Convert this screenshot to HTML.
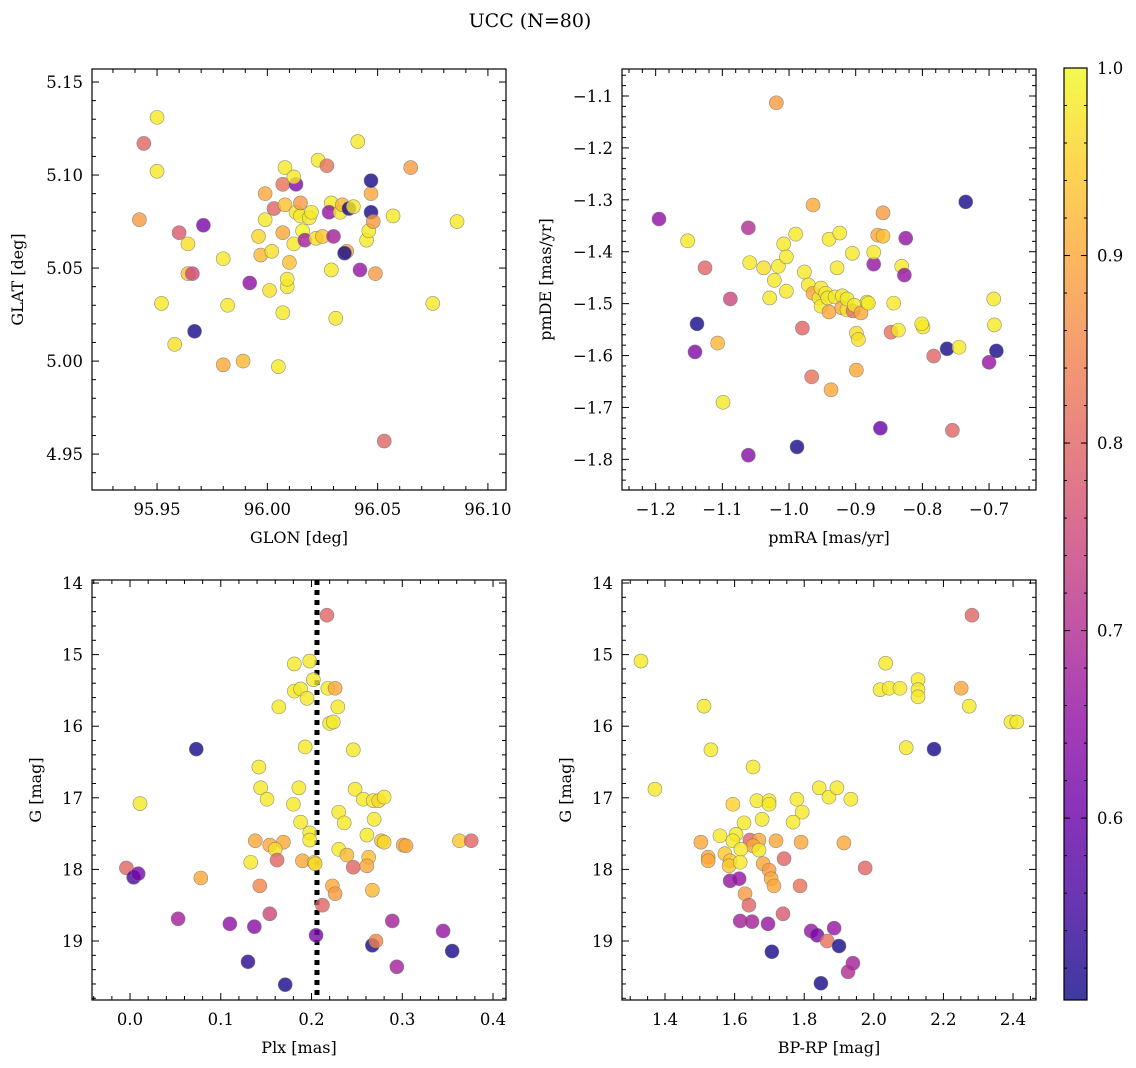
<!DOCTYPE html>
<html><head><meta charset="utf-8">
<style>
html,body{margin:0;padding:0;background:#fff}
svg{display:block;font-family:"DejaVu Serif","Liberation Serif",serif}
</style></head>
<body>
<svg id="fig" width="1136" height="1068" viewBox="0 0 1136 1068" xmlns="http://www.w3.org/2000/svg">
<text x="530" y="27" text-anchor="middle" font-size="19">UCC (N=80)</text>
<defs>
<linearGradient id="cbg" x1="0" y1="1" x2="0" y2="0">
<stop offset="0" stop-color="#0d0887"/><stop offset="0.1" stop-color="#41049d"/><stop offset="0.2" stop-color="#6a00a8"/><stop offset="0.3" stop-color="#8f0da4"/><stop offset="0.4" stop-color="#b12a90"/><stop offset="0.5" stop-color="#cc4778"/><stop offset="0.6" stop-color="#e16462"/><stop offset="0.7" stop-color="#f2844b"/><stop offset="0.8" stop-color="#fca636"/><stop offset="0.9" stop-color="#fcce25"/><stop offset="1" stop-color="#f0f921"/>
</linearGradient>
</defs>
</svg>
<script>
// ---- data ----
const p1X=[95.950,95.944,95.950,95.942,95.960,95.971,95.964,95.964,95.966,95.952,95.967,95.958,95.980,95.982,95.980,95.989,95.992,95.996,95.997,95.999,95.999,96.001,96.002,96.003,96.005,96.007,96.008,96.007,96.008,96.007,96.009,96.009,96.010,96.012,96.013,96.012,96.013,96.015,96.016,96.017,96.015,96.019,96.020,96.022,96.023,96.027,96.025,96.029,96.029,96.031,96.030,96.028,96.033,96.034,96.036,96.035,96.037,96.039,96.041,96.042,96.045,96.046,96.047,96.047,96.047,96.048,96.049,96.053,96.057,96.065,96.075,96.086];
const p1Y=[5.131,5.117,5.102,5.076,5.069,5.073,5.063,5.047,5.047,5.031,5.016,5.009,5.055,5.030,4.998,5.000,5.042,5.067,5.057,5.090,5.076,5.038,5.059,5.082,4.997,5.026,5.104,5.095,5.084,5.069,5.040,5.044,5.053,5.063,5.095,5.099,5.080,5.078,5.070,5.065,5.085,5.077,5.080,5.066,5.108,5.105,5.067,5.049,5.085,5.023,5.067,5.080,5.080,5.084,5.059,5.058,5.082,5.083,5.118,5.049,5.065,5.070,5.080,5.090,5.097,5.075,5.047,4.957,5.078,5.104,5.031,5.075];
const p1P=[0.98,0.8,0.98,0.88,0.78,0.62,0.97,0.93,0.75,0.98,0.51,0.97,0.98,0.98,0.9,0.92,0.65,0.96,0.92,0.9,0.98,0.97,0.97,0.8,0.98,0.98,0.98,0.82,0.93,0.9,0.98,0.98,0.93,0.98,0.63,0.98,0.98,0.98,1.0,0.68,0.88,0.98,0.98,0.97,0.98,0.82,0.94,0.98,0.98,0.98,0.68,0.66,0.98,0.92,0.9,0.51,0.51,0.98,0.98,0.66,0.98,0.98,0.51,0.9,0.51,0.88,0.88,0.8,0.98,0.88,0.98,0.98];

const p2X=[-1.195,-1.152,-1.138,-1.141,-1.107,-1.126,-1.088,-1.099,-1.061,-1.061,-1.059,-1.038,-1.022,-1.029,-1.016,-1.008,-1.004,-1.004,-1.019,-0.990,-0.988,-0.980,-0.977,-0.971,-0.964,-0.964,-0.966,-0.955,-0.952,-0.952,-0.945,-0.940,-0.942,-0.940,-0.937,-0.931,-0.928,-0.924,-0.920,-0.921,-0.913,-0.913,-0.905,-0.904,-0.902,-0.899,-0.899,-0.896,-0.892,-0.883,-0.881,-0.873,-0.873,-0.863,-0.867,-0.859,-0.859,-0.847,-0.843,-0.836,-0.831,-0.827,-0.825,-0.799,-0.801,-0.783,-0.763,-0.755,-0.745,-0.735,-0.693,-0.692,-0.700,-0.689];
const p2Y=[-1.337,-1.379,-1.539,-1.593,-1.576,-1.431,-1.491,-1.690,-1.792,-1.354,-1.421,-1.431,-1.455,-1.489,-1.428,-1.385,-1.410,-1.476,-1.113,-1.366,-1.776,-1.547,-1.439,-1.464,-1.480,-1.310,-1.641,-1.489,-1.470,-1.505,-1.480,-1.516,-1.489,-1.376,-1.666,-1.487,-1.431,-1.364,-1.485,-1.508,-1.512,-1.491,-1.403,-1.514,-1.503,-1.557,-1.628,-1.569,-1.518,-1.497,-1.499,-1.424,-1.401,-1.740,-1.368,-1.370,-1.325,-1.555,-1.499,-1.551,-1.428,-1.445,-1.374,-1.545,-1.539,-1.601,-1.587,-1.744,-1.584,-1.304,-1.491,-1.541,-1.613,-1.591];
const p2P=[0.65,0.98,0.51,0.63,0.92,0.8,0.75,0.98,0.64,0.7,0.98,0.97,0.98,0.98,0.98,0.98,0.98,0.98,0.88,0.98,0.51,0.8,0.98,0.98,0.9,0.9,0.82,0.98,0.98,0.98,0.98,0.9,0.98,0.98,0.9,0.98,0.98,0.98,0.98,0.9,0.98,0.98,0.98,0.82,0.98,0.97,0.9,0.97,0.9,0.98,0.98,0.66,0.98,0.6,0.9,0.93,0.88,0.82,0.98,0.98,0.98,0.66,0.66,0.98,0.98,0.8,0.51,0.8,0.98,0.51,0.98,0.98,0.66,0.51];

const p3X=[0.217,0.181,0.198,0.202,0.181,0.188,0.195,0.218,0.226,0.164,0.229,0.220,0.224,0.193,0.246,0.142,0.144,0.186,0.151,0.248,0.257,0.268,0.274,0.280,0.180,0.230,0.236,0.269,0.188,0.198,0.198,0.261,0.277,0.280,0.301,0.304,0.138,0.154,0.169,0.160,0.133,0.162,0.190,0.203,0.204,0.230,0.239,0.246,0.263,0.261,0.143,0.223,0.226,0.267,0.212,0.154,-0.004,0.004,0.009,0.011,0.053,0.073,0.078,0.110,0.130,0.137,0.171,0.205,0.267,0.271,0.289,0.294,0.345,0.355,0.363,0.376];
const p3Y=[14.45,15.13,15.09,15.35,15.51,15.48,15.61,15.47,15.47,15.73,15.73,15.96,15.94,16.29,16.33,16.57,16.86,16.86,17.02,16.88,17.02,17.04,17.04,16.99,17.09,17.20,17.35,17.30,17.34,17.49,17.59,17.52,17.60,17.62,17.66,17.67,17.60,17.66,17.62,17.72,17.90,17.87,17.88,17.90,17.92,17.72,17.80,17.97,17.83,17.95,18.23,18.23,18.34,18.29,18.50,18.62,17.98,18.11,18.06,17.08,18.69,16.32,18.12,18.76,19.29,18.80,19.61,18.92,19.06,19.00,18.72,19.36,18.86,19.14,17.60,17.60];
const p3P=[0.8,0.98,0.98,0.98,0.98,0.98,0.98,0.98,0.9,0.98,0.98,0.98,0.98,0.98,0.98,0.98,0.98,0.98,0.98,0.98,0.98,0.98,0.96,0.98,0.98,0.98,0.98,0.98,0.98,0.98,0.98,0.98,0.93,0.96,0.9,0.9,0.9,0.9,0.9,0.97,0.98,0.8,0.9,0.96,0.96,0.98,0.92,0.8,0.93,0.9,0.85,0.9,0.88,0.92,0.8,0.75,0.8,0.56,0.62,0.98,0.68,0.51,0.9,0.65,0.53,0.64,0.51,0.62,0.51,0.85,0.68,0.68,0.66,0.51,0.94,0.8];

const p4X=[1.532,1.653,1.371,1.843,1.871,1.894,1.934,1.595,1.664,1.699,1.699,1.779,1.794,1.679,1.768,1.627,1.558,1.604,1.503,1.595,1.644,1.670,1.653,1.618,1.670,1.719,1.791,1.914,1.524,1.524,1.572,1.587,1.584,1.616,1.682,1.699,1.742,1.975,1.705,1.713,1.788,1.587,1.613,1.630,1.641,1.739,1.616,1.650,1.696,1.820,1.837,1.886,1.866,1.900,1.707,1.940,1.926,1.848,1.331,2.034,2.018,2.044,2.075,2.127,2.127,2.127,2.251,2.274,2.282,2.394,2.411,2.093,2.173,1.512];
const p4Y=[16.33,16.57,16.88,16.86,16.99,16.86,17.02,17.09,17.04,17.04,17.09,17.02,17.20,17.30,17.34,17.35,17.53,17.51,17.62,17.60,17.59,17.59,17.67,17.72,17.73,17.60,17.62,17.63,17.83,17.88,17.78,17.88,17.95,17.90,17.92,18.01,17.85,17.98,18.13,18.23,18.23,18.16,18.13,18.34,18.50,18.62,18.72,18.73,18.76,18.86,18.92,18.82,19.00,19.07,19.15,19.31,19.43,19.59,15.09,15.12,15.49,15.47,15.47,15.35,15.49,15.59,15.47,15.72,14.45,15.94,15.94,16.30,16.32,15.72];
const p4P=[0.98,0.98,0.98,0.98,0.98,0.98,0.98,0.95,0.98,0.98,0.98,0.98,0.98,0.98,0.98,0.98,0.98,0.98,0.9,0.98,0.8,0.9,0.9,0.98,0.98,0.9,0.9,0.9,0.9,0.9,0.94,0.94,0.94,0.98,0.9,0.88,0.8,0.8,0.9,0.9,0.82,0.66,0.66,0.88,0.8,0.78,0.68,0.68,0.66,0.66,0.62,0.66,0.82,0.51,0.51,0.68,0.7,0.51,0.98,0.98,0.98,0.98,0.98,0.98,0.98,0.98,0.9,0.98,0.8,0.98,0.98,0.98,0.51,0.98];

const plxLine=0.206;
const cbTicks=[0.6,0.7,0.8,0.9,1.0];
const cbMin=0.503, cbMax=1.0;

// ---- rendering ----
const NS="http://www.w3.org/2000/svg";
const svg=document.getElementById('fig');
function mk(tag,attrs,parent){const e=document.createElementNS(NS,tag);for(const k in attrs)e.setAttribute(k,attrs[k]);(parent||svg).appendChild(e);return e;}
const stops=["#0d0887","#41049d","#6a00a8","#8f0da4","#b12a90","#cc4778","#e16462","#f2844b","#fca636","#fcce25","#f0f921"];
function hex(h){return [parseInt(h.substr(1,2),16),parseInt(h.substr(3,2),16),parseInt(h.substr(5,2),16)];}
function plasma(v){let t=(v-cbMin)/(cbMax-cbMin);t=Math.max(0,Math.min(1,t));const f=t*10,i=Math.min(9,Math.floor(f)),r=f-i;const a=hex(stops[i]),b=hex(stops[i+1]);return 'rgb('+a.map((c,k)=>Math.round(c+(b[k]-c)*r)).join(',')+')';}
function fmt(v,d){return (v<0?'\u2212':'')+Math.abs(v).toFixed(d);}

function panel(o){
  const g=mk('g',{});
  
  
  const sx=v=>o.x0+(v-o.xd[0])/(o.xd[1]-o.xd[0])*(o.x1-o.x0);
  const sy=v=>o.yInv? o.y0+(v-o.yd[0])/(o.yd[1]-o.yd[0])*(o.y1-o.y0) : o.y1-(v-o.yd[0])/(o.yd[1]-o.yd[0])*(o.y1-o.y0);
  const clip='c'+o.name;
  const cp=mk('clipPath',{id:clip},g);mk('rect',{x:o.x0,y:o.y0,width:o.x1-o.x0,height:o.y1-o.y0},cp);
  const pg=mk('g',{'clip-path':'url(#'+clip+')'},g);
  if(o.vline!==undefined){
    const l=mk('line',{x1:sx(o.vline),x2:sx(o.vline),y1:o.y0,y2:o.y1,stroke:'#000','stroke-width':5,'stroke-dasharray':'5,5'},pg);
    
    
  }
  for(let i=0;i<o.X.length;i++){
    const c=mk('circle',{cx:sx(o.X[i]),cy:sy(o.Y[i]),r:7,fill:plasma(o.P[i]),'fill-opacity':0.8,stroke:'#777','stroke-opacity':0.8,'stroke-width':0.6},pg);
    
    
  }
  mk('rect',{x:o.x0,y:o.y0,width:o.x1-o.x0,height:o.y1-o.y0,fill:'none',stroke:'#000','stroke-width':1.2},g);
  const eps=1e-9;
  const xs=Math.ceil((o.xd[0]-eps)/o.xmin), xe=Math.floor((o.xd[1]+eps)/o.xmin);
  for(let k=xs;k<=xe;k++){const v=k*o.xmin;const major=Math.abs(v/o.xmaj-Math.round(v/o.xmaj))<1e-6;const L=major?7:4;const px=sx(v);
    mk('line',{x1:px,x2:px,y1:o.y1,y2:o.y1-L,stroke:'#000','stroke-width':1},g);
    mk('line',{x1:px,x2:px,y1:o.y0,y2:o.y0+L,stroke:'#000','stroke-width':1},g);
    if(major){const t=mk('text',{x:px,y:o.y1+25,'text-anchor':'middle','font-size':16.5},g);t.textContent=fmt(v,o.xdec);
      
      }
  }
  const ys=Math.ceil((o.yd[0]-eps)/o.ymin), ye=Math.floor((o.yd[1]+eps)/o.ymin);
  for(let k=ys;k<=ye;k++){const v=k*o.ymin;const major=Math.abs(v/o.ymaj-Math.round(v/o.ymaj))<1e-6;const L=major?7:4;const py=sy(v);
    mk('line',{x1:o.x0,x2:o.x0+L,y1:py,y2:py,stroke:'#000','stroke-width':1},g);
    mk('line',{x1:o.x1,x2:o.x1-L,y1:py,y2:py,stroke:'#000','stroke-width':1},g);
    if(major){const t=mk('text',{x:o.x0-9,y:py+6,'text-anchor':'end','font-size':16.5},g);t.textContent=fmt(v,o.ydec);
      
      }
  }
  const xl=mk('text',{x:(o.x0+o.x1)/2,y:o.y1+53,'text-anchor':'middle','font-size':16},g);xl.textContent=o.xlab;
  
  
  const cy=(o.y0+o.y1)/2;
  const yl=mk('text',{x:o.ylx,y:cy,'text-anchor':'middle','font-size':16,transform:'rotate(-90 '+o.ylx+' '+cy+')'},g);yl.textContent=o.ylab;
  
  
}

panel({name:'glon-glat-panel',x0:92,x1:506,y0:69,y1:490,xd:[95.9205,96.1082],yd:[4.9307,5.157],xmaj:0.05,xmin:0.01,ymaj:0.05,ymin:0.01,xdec:2,ydec:2,X:p1X,Y:p1Y,P:p1P,xlab:'GLON [deg]',ylab:'GLAT [deg]',ylx:23});
panel({name:'proper-motion-panel',x0:622,x1:1036,y0:69,y1:490,xd:[-1.2505,-0.6296],yd:[-1.859,-1.048],xmaj:0.1,xmin:0.02,ymaj:0.1,ymin:0.02,xdec:1,ydec:1,X:p2X,Y:p2Y,P:p2P,xlab:'pmRA [mas/yr]',ylab:'pmDE [mas/yr]',ylx:551});
panel({name:'parallax-magnitude-panel',x0:92,x1:506,y0:580,y1:1000,xd:[-0.0419,0.4143],yd:[13.958,19.824],yInv:true,xmaj:0.1,xmin:0.02,ymaj:1,ymin:0.2,xdec:1,ydec:0,X:p3X,Y:p3Y,P:p3P,vline:plxLine,xlab:'Plx [mas]',ylab:'G [mag]',ylx:41});
panel({name:'color-magnitude-panel',x0:622,x1:1036,y0:580,y1:1000,xd:[1.2764,2.466],yd:[13.958,19.824],yInv:true,xmaj:0.2,xmin:0.05,ymaj:1,ymin:0.2,xdec:1,ydec:0,X:p4X,Y:p4Y,P:p4P,xlab:'BP-RP [mag]',ylab:'G [mag]',ylx:571});

// colorbar
const cb=mk('g',{});


const cbx0=1064,cbx1=1087,cby0=68,cby1=1000;
mk('rect',{x:cbx0,y:cby0,width:cbx1-cbx0,height:cby1-cby0,fill:'url(#cbg)','fill-opacity':0.8},cb);
mk('rect',{x:cbx0,y:cby0,width:cbx1-cbx0,height:cby1-cby0,fill:'none',stroke:'#000','stroke-width':1.2},cb);
const cbs=v=>cby1-(v-cbMin)/(cbMax-cbMin)*(cby1-cby0);
for(let v=0.52;v<=1.0001;v+=0.02){const py=cbs(v);mk('line',{x1:cbx1,x2:cbx1-3,y1:py,y2:py,stroke:'#000','stroke-width':1},cb);mk('line',{x1:cbx0,x2:cbx0+3,y1:py,y2:py,stroke:'#000','stroke-width':1},cb);}
cbTicks.forEach(v=>{const py=cbs(v);
  mk('line',{x1:cbx1,x2:cbx1-6,y1:py,y2:py,stroke:'#000','stroke-width':1},cb);
  mk('line',{x1:cbx0,x2:cbx0+6,y1:py,y2:py,stroke:'#000','stroke-width':1},cb);
  const t=mk('text',{x:1097,y:py+6,'font-size':16.5},cb);t.textContent=v.toFixed(1);
  
  
});
</script>
</body></html>
